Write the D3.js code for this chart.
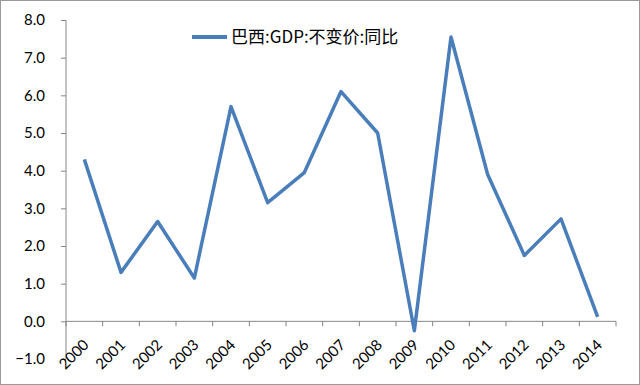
<!DOCTYPE html>
<html><head><meta charset="utf-8">
<script src="https://cdn.jsdelivr.net/npm/d3@7"></script>
<style>body{margin:0;background:#fff}svg{display:block}</style>
</head><body>
<svg id="c" width="640" height="385"></svg>
<script>
const categories = ["2000","2001","2002","2003","2004","2005","2006","2007","2008","2009","2010","2011","2012","2013","2014"];
const values = [4.3, 1.3, 2.65, 1.15, 5.7, 3.15, 3.95, 6.1, 5.0, -0.25, 7.55, 3.9, 1.75, 2.72, 0.12];
const yTicks = [-1,0,1,2,3,4,5,6,7,8];
const seriesName = "巴西:GDP:不变价:同比";

(function(){
const svg = d3.select("#c");
const W = 640, H = 385;
const mLeft = 66, mRight = 616, mTop = 20, mBottom = 359;
const axisCol = "#868686", lineCol = "#4a7ebb";
const font = "Lato, 'Liberation Sans', sans-serif";

svg.append("rect").attr("x",0.5).attr("y",0.5).attr("width",W-1).attr("height",H-1)
  .attr("fill","#fff").attr("stroke","#9a9a9a");

const x = d3.scaleBand().domain(categories).range([mLeft,mRight]).padding(0);
const y = d3.scaleLinear().domain([-1,8]).range([mBottom,mTop]);

// y axis
const ya = svg.append("g").attr("transform",`translate(${mLeft},0)`).attr("color",axisCol)
  .call(d3.axisLeft(y).tickValues(yTicks).tickSize(5).tickPadding(16).tickFormat(d3.format(".1f")));
ya.select(".domain").attr("stroke",axisCol).attr("d",`M0,${y(8)}V${y(-1)}`);
ya.selectAll(".tick line").attr("stroke",axisCol);
ya.selectAll(".tick text").attr("fill","#000").style("font-family",font).style("font-size","15px");

// x axis at y=0
const xa = svg.append("g").attr("transform",`translate(0,${y(0)})`).attr("color",axisCol)
  .call(d3.axisBottom(x).tickSize(0).tickFormat(""));
xa.select(".domain").attr("stroke",axisCol).attr("d",`M${mLeft},0H${mRight}`);
const bounds = categories.map(c=>x(c)).concat([mRight]);
xa.selectAll(".sep").data(bounds).enter().append("line").attr("class","sep")
  .attr("x1",d=>d).attr("x2",d=>d).attr("y1",0).attr("y2",5).attr("stroke",axisCol);

// x labels rotated
svg.append("g").selectAll("text").data(categories).enter().append("text")
  .attr("transform",d=>`translate(${x(d)+x.bandwidth()/2-2},${y(0)+17}) rotate(-45)`)
  .attr("text-anchor","end").attr("dy","0.7em")
  .style("font-family",font).style("font-size","15px").attr("fill","#000")
  .text(d=>d);

// line
const line = d3.line().x((d,i)=>x(categories[i])+x.bandwidth()/2).y(d=>y(d));
svg.append("path").datum(values).attr("d",line).attr("fill","none")
  .attr("stroke",lineCol).attr("stroke-width",3.5).attr("stroke-linejoin","round");

// legend
svg.append("line").attr("x1",192).attr("x2",227).attr("y1",37).attr("y2",37)
  .attr("stroke",lineCol).attr("stroke-width",4);
svg.append("text").attr("x",231).attr("y",43).text(seriesName)
  .style("font-family","'Noto Sans CJK SC', sans-serif").style("font-size","17px").attr("fill","#000");
})();
</script>
</body></html>
